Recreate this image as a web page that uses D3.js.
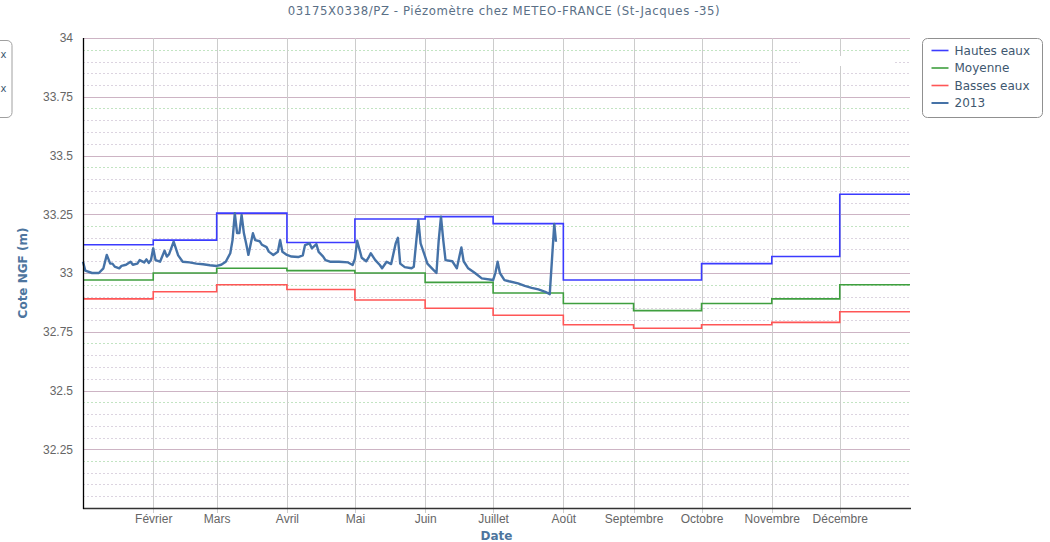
<!DOCTYPE html>
<html>
<head>
<meta charset="utf-8">
<script src="https://cdn.jsdelivr.net/npm/d3@7"></script>
<style>
  body { margin: 0; background: #fff; }
  svg { display: block; }
</style>
</head>
<body>
<div id="chart"></div>
<script>
// --- data ---
const monthStarts = ["2013-01-01","2013-02-01","2013-03-01","2013-04-01","2013-05-01","2013-06-01",
                     "2013-07-01","2013-08-01","2013-09-01","2013-10-01","2013-11-01","2013-12-01","2014-01-01"];
const monthLabels = ["Janvier","Février","Mars","Avril","Mai","Juin","Juillet","Août","Septembre","Octobre","Novembre","Décembre"];

const hautesEaux = [33.12, 33.14, 33.255, 33.13, 33.23, 33.24, 33.21, 32.97, 32.97, 33.04, 33.07, 33.335];
const moyenne    = [32.97, 33.00, 33.02, 33.01, 33.00, 32.96, 32.915, 32.87, 32.84, 32.87, 32.89, 32.95];
const bassesEaux = [32.89, 32.92, 32.95, 32.93, 32.885, 32.85, 32.82, 32.78, 32.765, 32.78, 32.79, 32.835];

const obsDates = [
  "2013-01-01","2013-01-02","2013-01-05","2013-01-08","2013-01-10","2013-01-11 12","2013-01-13","2013-01-14",
  "2013-01-15","2013-01-17","2013-01-18","2013-01-20","2013-01-22","2013-01-23","2013-01-25","2013-01-26",
  "2013-01-28","2013-01-29","2013-01-30","2013-01-31","2013-02-01","2013-02-02","2013-02-04","2013-02-06",
  "2013-02-07","2013-02-08","2013-02-10","2013-02-12","2013-02-14","2013-02-17","2013-02-20","2013-02-23",
  "2013-02-26","2013-03-01","2013-03-03","2013-03-05","2013-03-07","2013-03-08","2013-03-09","2013-03-10",
  "2013-03-11","2013-03-12","2013-03-13","2013-03-14","2013-03-15","2013-03-17","2013-03-18","2013-03-20",
  "2013-03-21","2013-03-23","2013-03-24","2013-03-26","2013-03-28","2013-03-29","2013-03-30","2013-04-01",
  "2013-04-03","2013-04-06","2013-04-08","2013-04-09","2013-04-11","2013-04-12","2013-04-14","2013-04-15",
  "2013-04-17","2013-04-18","2013-04-20","2013-04-24","2013-04-28","2013-04-30","2013-05-01","2013-05-02",
  "2013-05-04","2013-05-06","2013-05-07","2013-05-08","2013-05-10","2013-05-12","2013-05-13","2013-05-15",
  "2013-05-17","2013-05-19","2013-05-20","2013-05-21","2013-05-23","2013-05-26","2013-05-27","2013-05-28",
  "2013-05-29","2013-05-30","2013-06-01","2013-06-02","2013-06-04","2013-06-06","2013-06-07","2013-06-08",
  "2013-06-09","2013-06-10","2013-06-13","2013-06-15","2013-06-16","2013-06-17","2013-06-18","2013-06-20",
  "2013-06-23","2013-06-26","2013-07-01","2013-07-02","2013-07-03","2013-07-04","2013-07-06","2013-07-08",
  "2013-07-12","2013-07-15","2013-07-18","2013-07-21","2013-07-24","2013-07-26","2013-07-28","2013-07-28 18"
];
const obsValues = [
  33.048,33.010,33.000,33.000,33.020,33.077,33.040,33.040,
  33.027,33.020,33.030,33.035,33.048,33.035,33.040,33.055,
  33.045,33.058,33.043,33.055,33.105,33.055,33.048,33.095,
  33.070,33.080,33.133,33.075,33.048,33.045,33.040,33.037,
  33.033,33.030,33.035,33.048,33.084,33.140,33.254,33.170,
  33.170,33.247,33.170,33.126,33.077,33.169,33.140,33.135,
  33.120,33.110,33.091,33.077,33.090,33.140,33.090,33.077,
  33.070,33.068,33.075,33.119,33.126,33.105,33.123,33.090,
  33.070,33.055,33.048,33.048,33.045,33.034,33.060,33.137,
  33.065,33.050,33.065,33.084,33.055,33.034,33.020,33.048,
  33.038,33.126,33.150,33.040,33.025,33.020,33.027,33.126,
  33.226,33.126,33.070,33.040,33.020,33.000,33.140,33.240,
  33.140,33.055,33.050,33.020,33.065,33.109,33.050,33.020,
  33.000,32.977,32.970,33.000,33.048,33.000,32.970,32.965,
  32.956,32.945,32.937,32.930,32.920,32.910,33.209,33.133
];

const yTicks = [32.25, 32.5, 32.75, 33, 33.25, 33.5, 33.75, 34];

const titleText = "03175X0338/PZ - Piézomètre chez METEO-FRANCE (St-Jacques -35)";
const yTitle = "Cote NGF (m)";
const xTitle = "Date";
const legendNames = ["Hautes eaux", "Moyenne", "Basses eaux", "2013"];
const legendColors = ["#3b3bff", "#3f9f3f", "#ff5656", "#4572a7"];

// --- layout ---
const svgWidth = 1050, svgHeight = 542;
const margin = {top: 38, right: 140, bottom: 34, left: 83};
const width = svgWidth - margin.left - margin.right;
const height = svgHeight - margin.top - margin.bottom;

const parseDay = d3.utcParse("%Y-%m-%d");
const parseHour = d3.utcParse("%Y-%m-%d %H");
const parseDate = s => parseDay(s) || parseHour(s);

const scales = {
  x: d3.scaleUtc().domain([parseDate("2013-01-01"), parseDate("2014-01-01")]).range([0, width]),
  y: d3.scaleLinear().domain([32, 34]).range([height, 0])
};

const svg = d3.select("#chart").append("svg")
  .attr("width", svgWidth)
  .attr("height", svgHeight)
  .style("font-family", "'DejaVu Sans', Verdana, sans-serif");

// cut-off box at far left (from the neighbouring panel)
svg.append("rect")
  .attr("x", -40).attr("y", 40.5).attr("width", 52).attr("height", 77)
  .attr("rx", 5).attr("fill", "#fff").attr("stroke", "#a0a0a0");
[54, 88].forEach(y => svg.append("text")
  .attr("x", 0.5).attr("y", y + 4).attr("font-size", 10).attr("fill", "#3e576f").text("x"));

// title
svg.append("text")
  .attr("x", 504).attr("y", 15)
  .attr("text-anchor", "middle")
  .attr("font-family", "'DejaVu Sans Condensed', 'DejaVu Sans', sans-serif")
  .attr("font-size", 13)
  .attr("letter-spacing", 0.6)
  .attr("fill", "#5a6f86")
  .text(titleText);

const g = svg.append("g")
  .attr("transform", `translate(${margin.left},${margin.top})`);

// horizontal grid: major every 0.25, minor every 0.05
const minorVals = d3.range(0, 41).map(i => 32 + i * 0.05).filter(v => v > 32.01 && v < 33.99);
minorVals.forEach(v => {
  const r = Math.round(v / 0.05) % 5;
  if (r === 0) return;
  g.append("line")
    .attr("x1", 0).attr("x2", width)
    .attr("y1", Math.round(scales.y(v)) + 0.5).attr("y2", Math.round(scales.y(v)) + 0.5)
    .attr("stroke", r === 4 ? "#c2e4c2" : "#dcd4e0")
    .attr("stroke-dasharray", "2,2");
});
yTicks.forEach(v => {
  g.append("line")
    .attr("x1", 0).attr("x2", width)
    .attr("y1", Math.round(scales.y(v)) + 0.5).attr("y2", Math.round(scales.y(v)) + 0.5)
    .attr("stroke", "#cdb4c4");
});

// vertical grid at month starts
const monthDates = monthStarts.map(parseDate);
monthDates.slice(1, 12).forEach(d => {
  g.append("line")
    .attr("x1", Math.round(scales.x(d)) + 0.5).attr("x2", Math.round(scales.x(d)) + 0.5)
    .attr("y1", 0).attr("y2", height + 5)
    .attr("stroke", "#cccccc");
});

// white patch near the top right
svg.append("rect").attr("x", 800).attr("y", 56).attr("width", 95).attr("height", 10).attr("fill", "#fff");

// reference step lines
const stepLine = d3.line()
  .x(d => scales.x(d[0]))
  .y(d => scales.y(d[1]))
  .curve(d3.curveStepAfter);

function monthlyPoints(vals) {
  const pts = vals.map((v, i) => [monthDates[i], v]);
  pts.push([monthDates[12], vals[11]]);
  return pts;
}

[[hautesEaux, legendColors[0]], [moyenne, legendColors[1]], [bassesEaux, legendColors[2]]].forEach(([vals, c]) => {
  g.append("path")
    .attr("d", stepLine(monthlyPoints(vals)))
    .attr("fill", "none")
    .attr("stroke", c)
    .attr("stroke-width", 1.6);
});

// observed 2013 series
const obsLine = d3.line()
  .x(d => scales.x(d[0]))
  .y(d => scales.y(d[1]));

g.append("path")
  .attr("d", obsLine(obsDates.map((d, i) => [parseDate(d), obsValues[i]])))
  .attr("fill", "none")
  .attr("stroke", legendColors[3])
  .attr("stroke-width", 2.4)
  .attr("stroke-linejoin", "round");

// axes
const xAxis = d3.axisBottom(scales.x)
  .tickValues(monthDates.slice(1, 12))
  .tickFormat((d, i) => monthLabels[i + 1])
  .tickSize(0)
  .tickPadding(6);

const gX = g.append("g")
  .attr("transform", `translate(0,${height})`)
  .call(xAxis);
gX.select(".domain").remove();
gX.selectAll("text").attr("font-size", 12).attr("fill", "#666").attr("font-family", null);

g.append("line")
  .attr("x1", 0).attr("x2", width + 1)
  .attr("y1", height + 0.5).attr("y2", height + 0.5)
  .attr("stroke", "#333").attr("stroke-width", 1.3);

const yAxis = d3.axisLeft(scales.y)
  .tickValues(yTicks)
  .tickFormat(d3.format("~g"))
  .tickSize(0)
  .tickPadding(10);

const gY = g.append("g").call(yAxis);
gY.select(".domain").remove();
gY.selectAll("text").attr("font-size", 12).attr("fill", "#666").attr("font-family", null);

g.append("line")
  .attr("x1", 0.5).attr("x2", 0.5)
  .attr("y1", 0).attr("y2", height + 1)
  .attr("stroke", "#000").attr("stroke-width", 1.3);

// axis titles
svg.append("text")
  .attr("transform", `translate(27,${margin.top + height / 2}) rotate(-90)`)
  .attr("text-anchor", "middle")
  .attr("font-size", 12).attr("font-weight", "bold")
  .attr("fill", "#4d759e")
  .text(yTitle);

svg.append("text")
  .attr("x", margin.left + width / 2).attr("y", 540)
  .attr("text-anchor", "middle")
  .attr("font-size", 12).attr("font-weight", "bold")
  .attr("fill", "#4d759e")
  .text(xTitle);

// legend
const legend = svg.append("g").attr("transform", "translate(922.5,38.5)");
legend.append("rect")
  .attr("width", 120).attr("height", 79).attr("rx", 5)
  .attr("fill", "#fff").attr("stroke", "#909090");
legendNames.forEach((name, i) => {
  const y = 12 + i * 17.5;
  legend.append("line")
    .attr("x1", 9).attr("x2", 26).attr("y1", y).attr("y2", y)
    .attr("stroke", legendColors[i]).attr("stroke-width", i === 3 ? 2 : 1.6);
  legend.append("text")
    .attr("x", 32).attr("y", y + 4)
    .attr("font-size", 12).attr("fill", "#3e576f")
    .text(name);
});
</script>
</body>
</html>
